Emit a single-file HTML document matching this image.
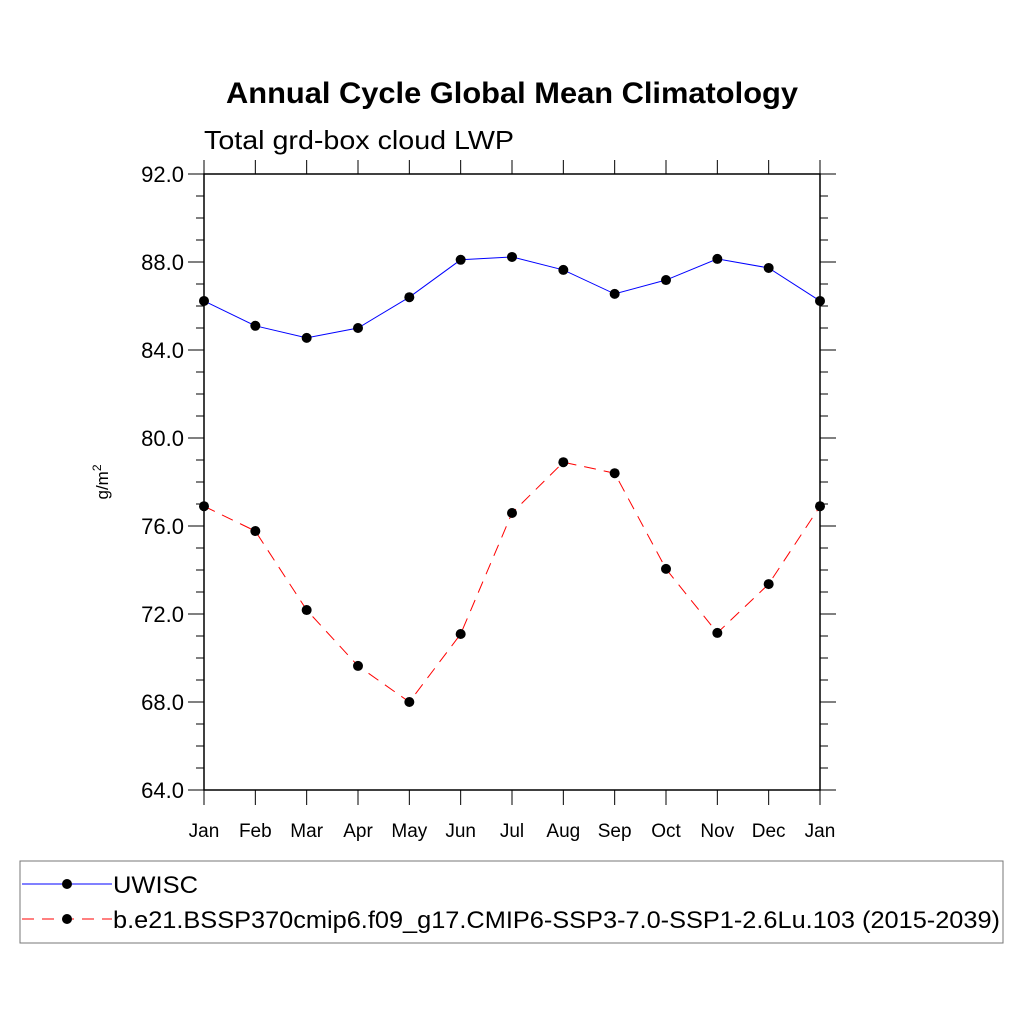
<!DOCTYPE html>
<html><head><meta charset="utf-8"><style>body{margin:0;background:#fff}svg{display:block}text{font-family:"Liberation Sans",sans-serif}</style></head>
<body>
<svg id="chart" width="1024" height="1024" viewBox="0 0 1024 1024" xmlns="http://www.w3.org/2000/svg">
<rect width="1024" height="1024" fill="#fff"/>
<text x="226" y="103" font-size="30" font-weight="bold" textLength="572" lengthAdjust="spacingAndGlyphs">Annual Cycle Global Mean Climatology</text>
<text x="204" y="149" font-size="26" textLength="310" lengthAdjust="spacingAndGlyphs">Total grd-box cloud LWP</text>
<text transform="translate(108,482) rotate(-90)" text-anchor="middle" font-size="17">g/m<tspan dy="-7" font-size="12">2</tspan></text>
<g id="axes"></g>
<g id="series"></g>
<g>
<rect x="20" y="861" width="983" height="82" fill="none" stroke="#777" stroke-width="1"/>
<line x1="22" y1="884" x2="112" y2="884" stroke="#0000ff" stroke-width="1"/>
<circle cx="67" cy="884" r="5" fill="#000"/>
<text x="113" y="893" font-size="24" textLength="85" lengthAdjust="spacingAndGlyphs">UWISC</text>
<line x1="22" y1="919" x2="112" y2="919" stroke="#ff0000" stroke-width="1" stroke-dasharray="12,8"/>
<circle cx="67" cy="919" r="5" fill="#000"/>
<text x="113" y="928" font-size="24" textLength="887" lengthAdjust="spacingAndGlyphs">b.e21.BSSP370cmip6.f09_g17.CMIP6-SSP3-7.0-SSP1-2.6Lu.103 (2015-2039)</text>
</g>
</svg>
<script>
const months = ["Jan","Feb","Mar","Apr","May","Jun","Jul","Aug","Sep","Oct","Nov","Dec","Jan"];
const uwisc = [86.23,85.1,84.55,85.0,86.4,88.1,88.23,87.64,86.55,87.18,88.14,87.73,86.23];
const model = [76.9,75.77,72.18,69.64,68.0,71.09,76.59,78.9,78.4,74.05,71.14,73.36,76.9];
const yTicks = [64,68,72,76,80,84,88,92];
const yTickLabels = ["64.0","68.0","72.0","76.0","80.0","84.0","88.0","92.0"];
const x0=204,x1=820,yTop=174,yBot=790,yMin=64,yMax=92;
const NS="http://www.w3.org/2000/svg";
function xs(i){return x0+i*(x1-x0)/(months.length-1);}
function ys(v){return yBot-(v-yMin)/(yMax-yMin)*(yBot-yTop);}
function mk(t,a,p){const e=document.createElementNS(NS,t);for(const k in a)e.setAttribute(k,a[k]);p.appendChild(e);return e;}
const ax=document.getElementById('axes');
const frame=mk('rect',{x:x0,y:yTop,width:x1-x0,height:yBot-yTop,fill:'none',stroke:'#000','stroke-width':1.5},ax);


for(let v=yMin;v<=yMax;v++){
  const y=ys(v),major=(v%4===0),L=major?16:8;
  mk('line',{x1:x0-L,y1:y,x2:x0,y2:y,stroke:'#000','stroke-width':1},ax);
  mk('line',{x1:x1,y1:y,x2:x1+L,y2:y,stroke:'#000','stroke-width':1},ax);
}
yTicks.forEach((v,i)=>{
  const t=mk('text',{x:x0-20,y:ys(v)+8,'text-anchor':'end','font-size':22},ax);
  t.textContent=yTickLabels[i];
  
  
});
months.forEach((m,i)=>{
  const x=xs(i);
  mk('line',{x1:x,y1:yTop-14,x2:x,y2:yTop,stroke:'#000','stroke-width':1},ax);
  mk('line',{x1:x,y1:yBot,x2:x,y2:yBot+15,stroke:'#000','stroke-width':1},ax);
  const t=mk('text',{x:x,y:837,'text-anchor':'middle','font-size':19},ax);
  t.textContent=m;
  
  
});
const sg=document.getElementById('series');
function draw(arr,color,dash,name){
  const pts=arr.map((v,i)=>xs(i)+','+ys(v)).join(' ');
  const l=mk('polyline',{points:pts,fill:'none',stroke:color,'stroke-width':1,'stroke-dasharray':dash},sg);
  
  
  arr.forEach((v,i)=>{
    const c=mk('circle',{cx:xs(i),cy:ys(v),r:5,fill:'#000'},sg);
    
    
  });
}
draw(uwisc,'#0000ff','none','uwisc');
draw(model,'#ff0000','12,8','model');
</script>
</body></html>
